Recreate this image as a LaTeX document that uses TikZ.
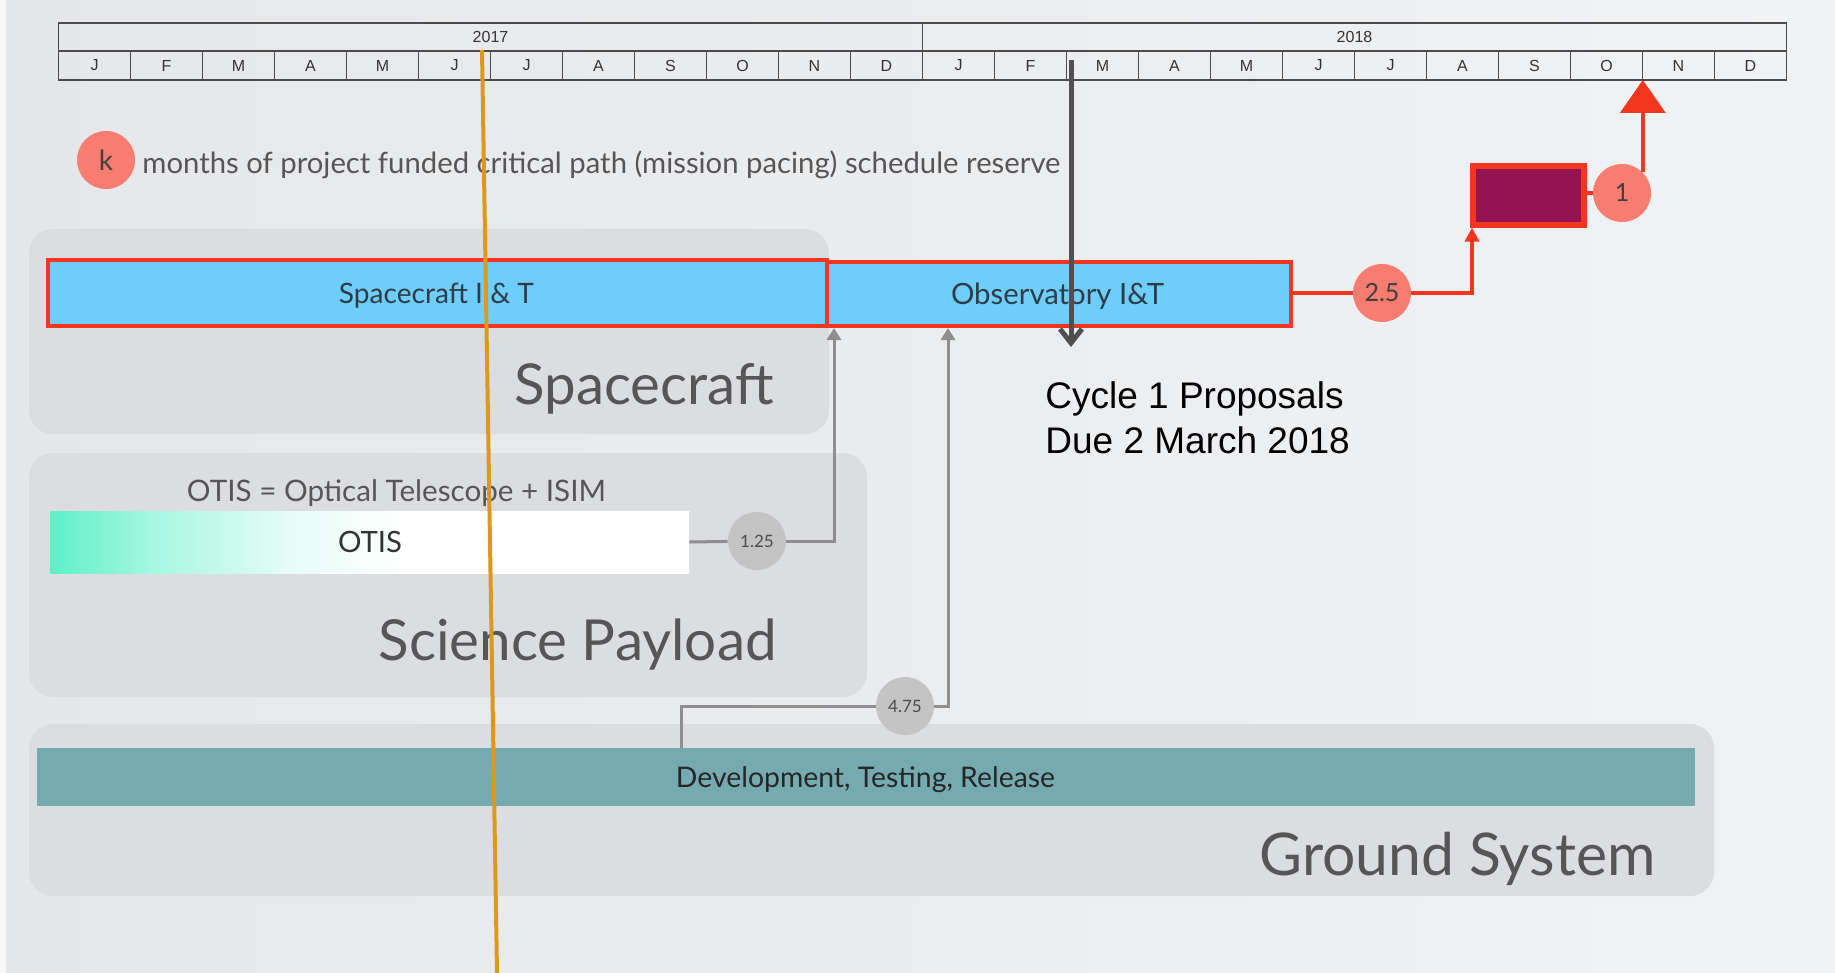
\documentclass[tikz,border=0pt]{standalone}
\usepackage{fontspec}
\usepackage{graphicx}
\setmainfont{Lato}
\newfontfamily\arialf{Liberation Sans}
\usetikzlibrary{arrows.meta,fit,calc}
\definecolor{bgL}{HTML}{E6E7EA}
\definecolor{bgR}{HTML}{F1F2F4}
\definecolor{panel}{HTML}{DCDDE0}
\definecolor{skyb}{HTML}{6ECDFA}
\definecolor{redb}{HTML}{F2361F}
\definecolor{salmon}{HTML}{F87C70}
\definecolor{plum}{HTML}{931450}
\definecolor{tealb}{HTML}{75AAB1}
\definecolor{aqua}{HTML}{5CF0C8}
\definecolor{conn}{HTML}{8E8E8E}
\definecolor{cgrey}{HTML}{C3C3C4}
\definecolor{orng}{HTML}{DD981E}
\definecolor{darkarr}{HTML}{505050}
\definecolor{labgrey}{HTML}{565656}
\definecolor{bartext}{HTML}{2E3D47}
\newcommand\fitw[2]{\resizebox{#1}{!}{#2}}
\pgfdeclarehorizontalshading{otisfade}{100bp}{color(0bp)=(aqua); color(25bp)=(aqua); color(33bp)=(aqua!55!white); color(44bp)=(aqua!15!white); color(53bp)=(white); color(100bp)=(white)}
\begin{document}
\begin{tikzpicture}[x=0.5pt,y=-0.5pt,
  panelbox/.style={fill=panel, rounded corners=12pt, draw=none, inner sep=0pt},
  barbox/.style={draw=redb, line width=1.6pt, fill=skyb, inner sep=0pt},
  bartxt/.style={anchor=base, inner sep=0pt, text=bartext},
  resv/.style={circle, fill=salmon, minimum size=29pt, inner sep=0pt, font=\fontsize{12.5}{12.5}\selectfont, text=black!75},
  resvg/.style={circle, fill=cgrey, minimum size=29pt, inner sep=0pt, font=\fontsize{8.5}{8.5}\selectfont, text=black!70},
  redline/.style={draw=redb, line width=2pt},
  greyline/.style={draw=conn, line width=1.5pt},
  greyarrow/.style={greyline, -{Triangle[length=6pt,width=7pt]}},
  biglabel/.style={text=labgrey, inner sep=0pt, anchor=base east},
  cell/.style={font=\arialf\fontsize{8}{8}\selectfont, text=black!80, inner sep=0pt},
  tline/.style={draw=black!70, line width=0.9pt}
]
\useasboundingbox (0,0) rectangle (1835,973);
% background
\fill[left color=bgL, right color=bgR] (0,0) rectangle (1835,973);
\fill[bgR!60!white] (0,0) rectangle (6,973);

% timeline table
\draw[tline] (58.5,22.7) rectangle (1786.5,80);
\draw[tline] (58.5,51) -- (1786.5,51);
\draw[tline] (922.5,22.7) -- (922.5,51);
\foreach \i in {1,...,23} \draw[tline] (58.5+72*\i,51) -- (58.5+72*\i,80);
\node[cell] (y17) at (490.5,37) {2017};
\node[cell] (y18) at (1354.5,37) {2018};
\foreach \m [count=\i] in {J,F,M,A,M,J,J,A,S,O,N,D,J,F,M,A,M,J,J,A,S,O,N,D}
  \node[cell] (m\i) at (22.5+72*\i,65.5) {\m};
\coordinate (nov) at (1642.5,80);

% legend
\node[resv, font=\fontsize{14}{14}\selectfont] (kc) at (106,160) {k};
\node[anchor=base west, inner sep=0pt, text=labgrey] (leg) at (142,174) {\fitw{459pt}{months of project funded critical path (mission pacing) schedule reserve}};

% panels
\node[panelbox, fit={(29,229)(829,434)}] (pSC) {};
\node[panelbox, fit={(29,453)(867,697)}] (pSP) {};
\node[panelbox, fit={(29,724)(1714,896)}] (pGS) {};
\node[biglabel] (lSC) at (774,404) {\fitw{129.5pt}{Spacecraft}};
\node[biglabel] (lSP) at (777,660) {\fitw{199pt}{Science Payload}};
\node[biglabel] (lGS) at (1656,875) {\fitw{198pt}{Ground System}};

% connector coordinates
\coordinate (a1) at (834,328);
\coordinate (a2) at (948,328);
\coordinate (g0) at (681,748);
\coordinate (rj) at (1472,293);

% science payload
\node[anchor=base, inner sep=0pt, text=labgrey] (otiseq) at (396.5,501) {\fitw{209.5pt}{OTIS = Optical Telescope + ISIM}};
\node[fit={(50,511)(689,573)}, inner sep=0pt, shade, shading=otisfade] (otis) {};
\node[bartxt, text=black!80] (otisl) at (370,552) {\fitw{32pt}{OTIS}};
\node[resvg] (c125) at (757,541) {1.25};
\node[resvg] (c475) at (905,706) {4.75};

% ground system bar
\node[fit={(37,748)(1695,806)}, fill=tealb, inner sep=0pt] (dev) {};
\node[bartxt, text=black!85] (devl) at (865.5,787) {\fitw{189.5pt}{Development, Testing, Release}};

% grey connectors
\draw[greyline] (otis.east) -- (c125);
\draw[greyline] (g0) -- (g0 |- c475) -- (c475);

% spacecraft bars
\node[barbox, fit={(48,260)(827,326)}] (scit) {};
\node[barbox, fit={(827,262)(1291,326)}, line width=2.3pt] (obit) {};
\node[bartxt] (scitl) at (436.5,303) {\fitw{97.5pt}{Spacecraft I \& T}};
\node[bartxt] (obitl) at (1057.5,304) {\fitw{106.5pt}{Observatory I\&T}};

\draw[greyarrow] (c125) -- (c125 -| a1) -- (a1);
\draw[greyarrow] (c475) -- (c475 -| a2) -- (a2);

% red critical path
\node[resv] (c25) at (1382,293) {2.5};
\node[fit={(1473,166)(1584,225)}, fill=plum, draw=redb, line width=2.6pt, inner sep=0pt] (pb) {};
\node[resv] (c1) at (1622,193) {1};
\draw[redline] (c25 -| obit.east) -- (c25);
\draw[redline, -{Triangle[length=7pt,width=7pt]}] (c25) -- (rj) -- (rj |- pb.south);
\draw[redline] (c1 -| pb.east) -- (c1);
\draw[redline, -{Triangle[length=16.5pt,width=22.5pt]}] (c1.45) -- (c1.45 |- nov);

% proposals deadline
\coordinate (dA) at (1071,60);
\coordinate (dB) at (1071,347);
\draw[draw=darkarr, line width=2.5pt, -{Straight Barb[length=7pt,width=11pt]}] (dA) -- (dB);
\node[anchor=base west, inner sep=0pt, font=\arialf\fontsize{18.5}{22}\selectfont] (cyc1) at (1045,408) {Cycle 1 Proposals};
\node[anchor=base west, inner sep=0pt, font=\arialf\fontsize{18.5}{22}\selectfont] (cyc2) at (1045,453) {Due 2 March 2018};

% current date line
\coordinate (o1) at (482,50);
\coordinate (o2) at (497,973);
\draw[draw=orng, line width=2pt] (o1) -- (o2);
\end{tikzpicture}
\end{document}
